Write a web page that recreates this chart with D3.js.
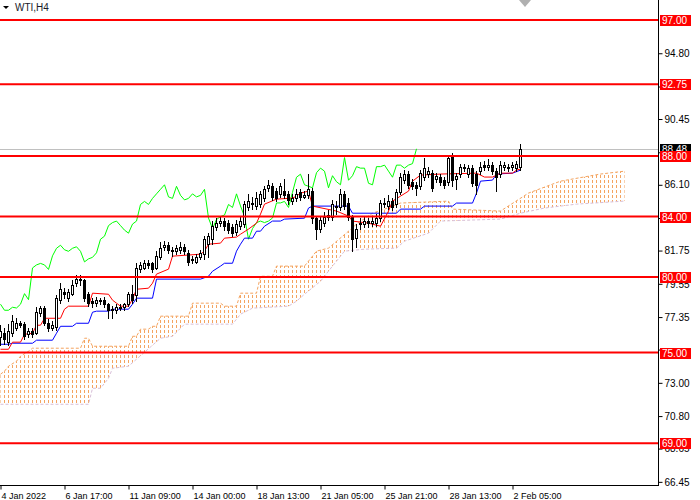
<!DOCTYPE html>
<html>
<head>
<meta charset="utf-8">
<script src="https://cdn.jsdelivr.net/npm/d3@7"></script>
<style>
body { margin: 0; background: #fff; }
svg { display: block; font-family: "Liberation Sans", Arial, sans-serif; }
</style>
</head>
<body>
<svg id="chart" width="700" height="500"></svg>
<script>
// - - - - - - DATA (WTI, H4, one bar = 4 hours, bar 0 = 4 Jan 2022 01:00)

var barOpen = [76.0,76.3,75.7,76.3,76.65,76.95,76.9,76.2,76.4,76.3,77.6,77.95,76.95,76.6,76.7,78.5,79.0,78.6,78.9,79.6,
  79.9,79.8,78.9,78.4,78.3,78.5,78.5,78.2,77.9,77.8,78.0,78.0,78.2,78.9,78.8,80.5,80.6,80.9,80.9,80.6,
  81.3,82.0,82.1,81.8,81.7,81.8,82.0,81.6,81.1,81.0,81.3,81.5,82.2,82.5,83.3,83.6,83.7,83.6,83.3,83.0,
  83.4,83.5,84.6,84.9,84.7,84.8,85.2,85.9,86.0,85.7,85.5,85.7,85.5,85.0,85.2,85.6,85.3,85.4,85.7,83.9,
  83.2,83.6,84.0,84.0,84.7,84.6,85.5,84.9,84.0,82.6,83.5,83.5,83.7,83.6,83.6,83.9,84.8,84.7,85.0,84.8,
  85.6,86.4,86.8,86.3,86.1,86.0,86.6,86.8,86.9,86.5,86.6,86.4,86.3,88.0,86.5,86.8,87.3,86.8,87.2,86.8,
  87.0,87.4,87.3,87.4,87.0,86.8,87.3,87.3,87.3,87.2,87.3];
var barHigh = [76.8,76.6,76.9,77.5,77.3,77.1,77.0,76.6,76.6,78.0,78.1,78.1,77.2,77.1,78.8,79.6,79.3,79.2,79.8,80.1,
  80.1,79.9,79.0,78.6,78.7,78.6,78.7,78.3,78.1,78.2,78.2,78.3,79.0,79.5,80.9,81.0,81.1,81.1,81.0,81.7,
  82.3,82.4,82.3,82.0,82.1,82.3,82.2,81.8,81.4,81.5,81.8,82.7,82.9,83.7,83.9,84.0,83.9,83.8,83.5,83.8,
  84.0,85.0,85.5,85.3,85.6,85.7,86.0,86.4,86.2,85.9,86.2,86.5,85.7,85.5,85.8,85.8,85.7,86.8,85.9,84.0,
  84.0,84.3,84.4,85.1,85.0,85.8,85.7,85.2,84.1,83.5,83.9,84.0,83.9,84.0,84.2,85.1,85.2,85.4,85.2,85.8,
  86.9,87.1,87.0,86.5,86.3,87.1,87.9,87.3,87.1,86.9,86.8,86.6,88.1,88.2,86.9,87.5,87.5,87.4,87.4,87.0,
  87.6,87.7,87.8,87.6,87.2,87.7,87.6,87.5,87.6,87.7,88.8];
var barLow = [75.5,75.6,75.5,76.1,76.5,76.7,75.9,76.0,76.0,76.2,77.4,76.8,76.4,76.5,76.5,78.3,78.6,78.4,78.8,79.4,
  79.5,78.4,78.1,78.0,78.1,78.2,78.0,77.3,77.3,77.6,77.8,77.8,78.1,78.3,78.4,80.3,80.5,80.6,80.3,80.5,
  81.2,81.8,81.6,81.4,81.5,81.6,81.5,80.8,80.9,80.9,81.2,81.2,81.3,82.2,83.1,83.4,83.1,82.9,82.7,82.8,
  83.2,83.3,84.4,84.5,84.5,84.6,85.0,85.7,85.1,85.0,85.3,85.2,84.8,84.8,85.0,85.1,85.2,85.2,83.6,82.5,
  83.0,83.4,83.8,83.8,84.2,84.4,84.5,83.8,81.7,82.0,83.2,83.3,83.3,83.4,83.4,83.7,84.6,84.5,84.4,84.6,
  85.5,86.2,85.9,85.8,85.4,85.8,86.4,86.6,85.7,86.3,86.1,85.9,86.1,86.0,85.8,86.6,87.0,86.6,86.0,85.5,
  86.8,87.1,87.1,86.8,85.7,86.6,87.1,87.0,87.1,87.0,87.1];
var barClose = [76.4,75.9,76.4,77.1,76.95,76.85,76.1,76.4,76.2,77.7,77.95,76.95,76.6,76.8,78.6,79.2,78.9,79.0,79.5,79.9,
  79.8,78.6,78.3,78.3,78.5,78.4,78.2,77.8,77.8,78.0,77.95,78.2,78.9,78.5,80.6,80.8,80.9,80.8,80.5,81.4,
  81.9,82.1,81.8,81.7,81.9,82.0,81.7,81.0,81.2,81.3,81.6,82.5,82.7,83.4,83.6,83.7,83.4,83.1,82.9,83.5,
  83.7,84.8,85.0,84.8,85.2,85.5,85.8,86.1,85.3,85.2,86.0,85.4,85.1,85.2,85.5,85.3,85.4,85.8,83.9,83.2,
  83.8,84.0,84.1,84.8,84.6,85.5,84.7,84.0,82.5,83.2,83.6,83.7,83.6,83.7,83.9,84.9,84.9,85.0,84.6,85.6,
  86.6,86.8,86.1,86.0,85.9,86.9,87.2,87.0,85.9,86.7,86.3,86.1,87.9,86.4,86.7,87.3,87.2,87.2,86.2,86.1,
  87.3,87.3,87.4,87.0,86.6,87.4,87.4,87.2,87.4,87.5,88.48];

// Ichimoku lines: [bar, price]
var tenkanPts = [[0,75.22],[2,75.22],[3,75.69],[5,75.69],[6,76.21],[8,76.28],[9,76.81],[10,76.81],[11,77.27],[15,77.27],
  [16,77.87],[17,78.07],[22,78.07],[23,78.93],[27,78.86],[28,78.47],[29,78.27],[30,78.07],[32,78.07],[33,78.53],
  [34,79.19],[37,79.26],[38,79.59],[39,80.19],[42,80.52],[43,81.38],[50,81.51],[51,81.71],[52,82.17],[55,82.24],
  [56,82.57],[59,82.64],[60,82.83],[62,83.17],[64,83.56],[65,84.16],[66,84.82],[69,85.15],[73,85.22],[74,85.35],
  [75,85.55],[77,85.68],[78,84.69],[84,84.36],[87,84.03],[88,83.70],[92,83.56],[95,83.36],[97,84.36],[98,85.02],
  [100,85.35],[102,85.68],[103,86.34],[105,86.74],[110,86.81],[119,86.87],[121,86.61],[123,86.61],[125,86.87],
  [128,86.87],[129,87.07],[130,87.14]];
var kijunPts = [[0,75.55],[2,75.55],[3,75.62],[8,75.62],[9,75.82],[13,75.82],[14,76.28],[15,76.74],[18,76.74],[19,76.94],
  [22,76.94],[23,77.67],[24,77.74],[27,77.74],[28,77.87],[32,77.87],[33,78.20],[34,78.60],[38,78.60],[39,79.86],
  [50,79.86],[52,80.05],[53,80.38],[55,80.72],[56,80.91],[58,80.91],[59,81.71],[60,82.17],[61,82.57],[63,82.57],
  [64,83.03],[65,83.03],[66,83.36],[68,83.70],[70,83.70],[71,83.83],[76,83.89],[77,84.56],[78,84.69],[87,84.69],
  [88,84.22],[99,84.22],[100,84.49],[105,84.49],[106,84.69],[113,84.69],[114,84.89],[118,84.89],[119,85.55],
  [120,86.34],[123,86.41],[124,86.81],[128,86.87],[130,87.07]];
var spanAPts = [[0,73.57],[1,73.77],[2,74.10],[4,74.43],[5,74.76],[7,75.09],[8,75.29],[20,75.29],[21,75.95],[22,75.95],
  [23,75.42],[32,75.42],[33,76.08],[34,76.08],[35,76.55],[37,76.55],[38,76.74],[39,76.74],[40,77.41],[47,77.41],
  [48,78.27],[55,78.27],[56,78.07],[59,78.07],[60,78.93],[64,78.93],[65,80.05],[68,80.05],[69,80.72],[76,80.72],
  [78,81.38],[79,81.71],[82,81.91],[87,83.03],[89,83.50],[93,84.22],[96,84.49],[100,84.89],[112,85.02],[113,84.49],
  [125,84.36],[132,85.55],[140,86.34],[150,86.81],[156,87.00]];
var spanBPts = [[0,71.58],[22,71.58],[23,72.64],[25,72.64],[27,73.30],[28,73.96],[32,74.10],[40,75.95],[43,76.08],
  [46,76.88],[58,76.88],[60,77.54],[63,77.94],[72,78.07],[74,78.40],[76,78.86],[80,79.72],[83,80.72],[86,81.71],
  [91,81.84],[99,81.91],[101,82.37],[107,82.90],[110,83.70],[125,83.83],[130,84.22],[136,84.56],[144,84.82],[156,85.02]];
var chikouShift = 26;

// horizontal levels drawn by hand on the chart
var levels = [97.00, 92.75, 88.00, 84.00, 80.00, 75.00, 69.00];
var lastPrice = 88.48;

// axis ticks (some of them sit fully under a price tag)
var priceTicks = [94.80, 92.60, 90.45, 88.25, 86.10, 83.90, 81.75, 79.55, 77.35, 75.20, 73.00, 70.80, 68.65, 66.45];
var hiddenTicks = [88.25, 83.90, 75.20];
var timeTicks = [0, 16, 32, 48, 64, 80, 96, 112, 128];
var timeLabels = ["4 Jan 2022", "6 Jan 17:00", "11 Jan 09:00", "14 Jan 00:00", "18 Jan 13:00",
  "21 Jan 05:00", "25 Jan 21:00", "28 Jan 13:00", "2 Feb 05:00"];

/* * - - - - - - - - SCALES
*/
var plotW = 658, plotH = 485;
var x = d3.scaleLinear().domain([0, 1]).range([0, 4]);   // bar index -> px
var y = d3.scaleLinear().domain([69, 97]).range([443.3, 20]);
var fmt = d3.format(".2f");

var svg = d3.select("#chart");

svg.append("defs").html(
  '<clipPath id="plot"><rect x="0" y="0" width="' + plotW + '" height="' + plotH + '"/></clipPath>' +
  '<pattern id="kumo" patternUnits="userSpaceOnUse" width="4" height="5">' +
  '<rect x="0" y="0" width="1" height="3" fill="#F4A460"/></pattern>');

var plot = svg.append("g").attr("clip-path", "url(#plot)");

var line = d3.line()
  .x(function(d) { return x(d[0]) + 0.5; })
  .y(function(d) { return y(d[1]); });

/* * - - - - - - - - CLOUD
*/
var cloudPts = spanAPts.concat(spanBPts.slice().reverse());
plot.append("path")
  .attr("d", line(cloudPts) + "Z")
  .attr("fill", "url(#kumo)");

plot.append("path")
  .attr("d", line(spanBPts))
  .attr("fill", "none")
  .attr("stroke", "#D8BFD8")
  .attr("stroke-dasharray", "3,2");

plot.append("path")
  .attr("d", line(spanAPts))
  .attr("fill", "none")
  .attr("stroke", "#F4A460")
  .attr("stroke-dasharray", "3,2");

// bid line
plot.append("line")
  .attr("x1", 0).attr("x2", plotW)
  .attr("y1", Math.round(y(lastPrice)) + 0.5).attr("y2", Math.round(y(lastPrice)) + 0.5)
  .attr("stroke", "#C0C0C0");

/* * - - - - - - - - INDICATOR LINES
*/
var chikouPts = [];
for (var i = chikouShift; i < barClose.length; i++) {
  chikouPts.push([i - chikouShift, barClose[i]]);
}

[[chikouPts, "#00FF00"], [kijunPts, "#0000FF"], [tenkanPts, "#FF0000"]].forEach(function(s) {
  plot.append("path")
    .attr("d", line(s[0]))
    .attr("fill", "none")
    .attr("stroke", s[1])
    .attr("stroke-width", 1);
});

/* * - - - - - - - - CANDLES
*/
var bars = barClose.map(function(c, i) {
  return { i: i, o: barOpen[i], h: barHigh[i], l: barLow[i], c: c };
});

var candle = plot.append("g").attr("shape-rendering", "crispEdges")
  .selectAll("g").data(bars).enter().append("g");

candle.append("line")
  .attr("x1", function(d) { return x(d.i) + 0.5; })
  .attr("x2", function(d) { return x(d.i) + 0.5; })
  .attr("y1", function(d) { return Math.round(y(d.h)); })
  .attr("y2", function(d) { return Math.round(y(d.l)) + 1; })
  .attr("stroke", "#000");

candle.append("rect")
  .attr("x", function(d) { return x(d.i) - 0.5; })
  .attr("y", function(d) { return Math.round(y(Math.max(d.o, d.c))) + 0.5; })
  .attr("width", 2)
  .attr("height", function(d) {
    return Math.round(y(Math.min(d.o, d.c))) - Math.round(y(Math.max(d.o, d.c)));
  })
  .attr("fill", function(d) { return d.c >= d.o ? "#fff" : "#000"; })
  .attr("stroke", "#000");

/* * - - - - - - - - LEVEL LINES
*/
plot.selectAll(".level").data(levels).enter().append("line")
  .attr("class", "level")
  .attr("x1", 0).attr("x2", plotW)
  .attr("y1", function(d) { return y(d); })
  .attr("y2", function(d) { return y(d); })
  .attr("stroke", "#FF0000")
  .attr("stroke-width", 2);

/* * - - - - - - - - AXES
*/
var yAxis = svg.append("g")
  .attr("transform", "translate(658.5,0)")
  .call(d3.axisRight(y).tickValues(priceTicks).tickSize(4).tickPadding(2)
    .tickFormat(function(d) { return hiddenTicks.indexOf(d) >= 0 ? "" : fmt(d); }));
yAxis.select(".domain").remove();
yAxis.selectAll("text").attr("font-size", 10).attr("font-family", "Liberation Sans, Arial, sans-serif").attr("fill", "#000");

var xAxis = svg.append("g")
  .attr("transform", "translate(0," + (plotH + 0.5) + ")")
  .call(d3.axisBottom(x).tickValues(timeTicks).tickSize(4).tickPadding(3)
    .tickFormat(function(d, i) { return timeLabels[i]; }));
xAxis.select(".domain").remove();
xAxis.selectAll(".tick line").attr("transform", "translate(0.5,0)");
xAxis.selectAll("text").attr("text-anchor", "start").attr("x", 1)
  .attr("font-size", 9).attr("font-family", "Liberation Sans, Arial, sans-serif").attr("fill", "#000");

svg.append("line").attr("x1", plotW + 0.5).attr("x2", plotW + 0.5).attr("y1", 0).attr("y2", plotH + 1)
  .attr("stroke", "#000");
svg.append("line").attr("x1", 0).attr("x2", plotW + 1).attr("y1", plotH + 0.5).attr("y2", plotH + 0.5)
  .attr("stroke", "#000");

/* * - - - - - - - - PRICE LABELS
*/
function priceTag(p, bg) {
  var g = svg.append("g");
  g.append("rect").attr("x", 660).attr("y", Math.round(y(p)) - 5).attr("width", 31).attr("height", 11).attr("fill", bg);
  g.append("text").attr("x", 662).attr("y", Math.round(y(p)) + 4)
    .attr("font-size", 10).attr("fill", "#fff").text(fmt(p));
}
priceTag(lastPrice, "#000");
levels.forEach(function(p) { priceTag(p, "#FF0000"); });

/* * - - - - - - - - TITLE + SHIFT MARK
*/
svg.append("path").attr("d", "M3,6L9,6L6,9Z").attr("fill", "#000");
svg.append("text").attr("x", 15).attr("y", 11).attr("font-size", 10).attr("fill", "#1a1a2a").text("WTI,H4");
svg.append("path").attr("d", "M519,0L531,0L525,7Z").attr("fill", "#B0B0B0");
</script>
</body>
</html>
